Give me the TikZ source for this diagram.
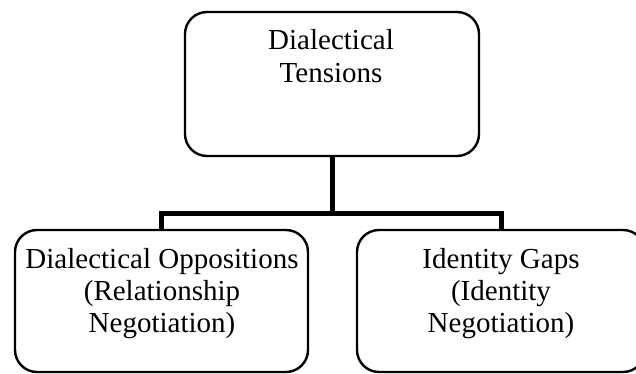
\documentclass[tikz,border=0pt]{standalone}
\usepackage{fontspec}
\setmainfont{Liberation Serif}
\begin{document}
\begin{tikzpicture}[x=1pt,y=1pt,
  box/.style={draw, rounded corners=22pt, line width=2.4pt, inner sep=0pt},
  txt/.style={anchor=base, inner sep=0pt, font=\fontsize{29}{33}\selectfont},
  conn/.style={draw, line width=5pt}]
\useasboundingbox (0,0) rectangle (636,-374);
\clip (0,0) rectangle (636,-374);
\node[box, minimum width=294pt, minimum height=144pt] (top) at (332,-84) {};
\node[box, minimum width=293pt, minimum height=142pt] (left) at (161.5,-301) {};
\node[box, minimum width=288pt, minimum height=142pt] (right) at (501,-301) {};
\node[txt] (t1) at (331,-50) {Dialectical};
\node[txt] (t2) at (331,-83) {Tensions};
\node[txt] (l1) at (162,-268) {Dialectical Oppositions};
\node[txt] (l2) at (162,-300) {(Relationship};
\node[txt] (l3) at (162,-332) {Negotiation)};
\node[txt] (r1) at (501,-268) {Identity Gaps};
\node[txt] (r2) at (501,-300) {(Identity};
\node[txt] (r3) at (501,-332) {Negotiation)};
\coordinate (bus) at (332,-213);
\draw[conn] (top.south) -- (bus);
\draw[conn] (left.north) |- (bus) -| (right.north);
\end{tikzpicture}
\end{document}
